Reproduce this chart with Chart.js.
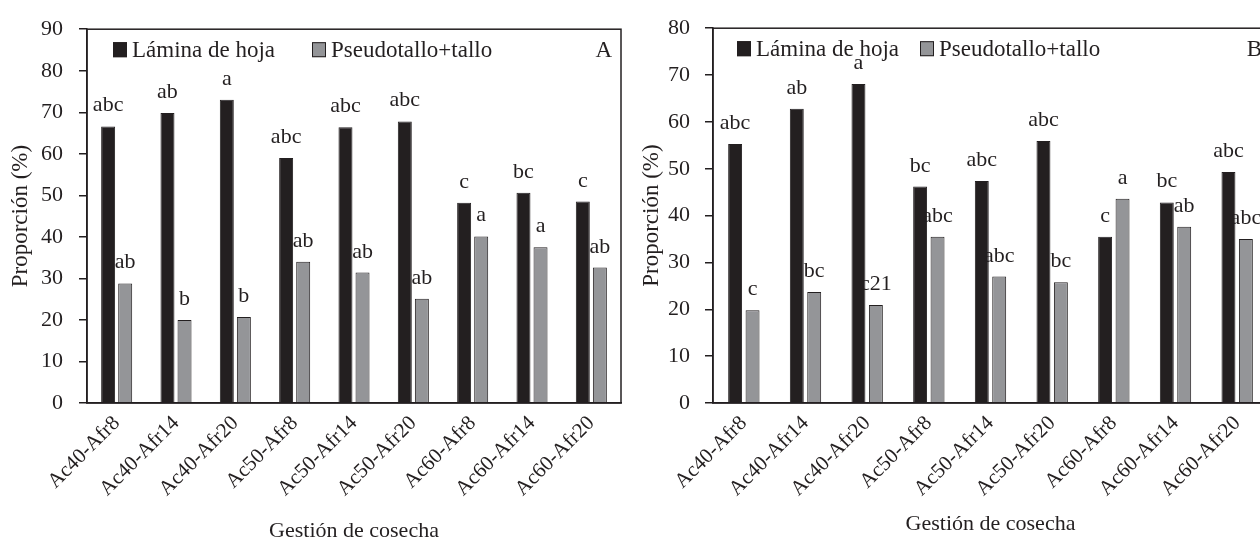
<!DOCTYPE html>
<html>
<head>
<meta charset="utf-8">
<script src="https://cdn.jsdelivr.net/npm/chart.js@4.4.1/dist/chart.umd.min.js"></script>
<style>
  html, body { margin:0; padding:0; background:#fff; overflow:hidden; width:1260px; height:556px; }
  #wrapA { position:absolute; left:0; top:0; width:630px; height:556px; }
  #wrapB { position:absolute; left:630px; top:0; width:660px; height:556px; }
</style>
</head>
<body>
<div id="wrapA"><canvas id="chartA" width="630" height="556"></canvas></div>
<div id="wrapB"><canvas id="chartB" width="660" height="556"></canvas></div>
<script>
// ---- data ----
const categories = ['Ac40-Afr8','Ac40-Afr14','Ac40-Afr20','Ac50-Afr8','Ac50-Afr14','Ac50-Afr20','Ac60-Afr8','Ac60-Afr14','Ac60-Afr20'];
const seriesNames = ['Lámina de hoja','Pseudotallo+tallo'];

const laminaA = [66.6, 69.8, 73.0, 59.0, 66.4, 67.8, 48.2, 50.6, 48.5];
const pseudoA = [28.8, 20.0, 20.7, 34.0, 31.4, 25.1, 40.1, 37.5, 32.6];
const lettersLaminaA = ['abc','ab','a','abc','abc','abc','c','bc','c'];
const lettersPseudoA = ['ab','b','b','ab','ab','ab','a','a','ab'];

const laminaB = [55.3, 62.8, 68.1, 46.2, 47.4, 55.9, 35.5, 42.8, 49.3];
const pseudoB = [19.8, 23.7, 20.9, 35.5, 27.0, 25.8, 43.6, 37.6, 35.0];
const lettersLaminaB = ['abc','ab','a','bc','abc','abc','c','bc','abc'];
const lettersPseudoB = ['c','bc','c21','abc','abc','bc','a','ab','abc'];

const yTicksA = [0,10,20,30,40,50,60,70,80,90];
const yTicksB = [0,10,20,30,40,50,60,70,80];

const yTitle = 'Proporción (%)';
const xTitle = 'Gestión de cosecha';

// ---- styles ----
const INK = '#231f20';
const GRAY = '#949598';
const FONT = "'Liberation Serif', 'Times New Roman', serif";

const decor = {
  id: 'decor',
  afterDatasetsDraw(chart, args, opts) {
    const ctx = chart.ctx;
    const a = chart.chartArea;
    ctx.save();
    // frame
    ctx.strokeStyle = INK;
    ctx.lineWidth = 1.5;
    ctx.strokeRect(a.left, a.top, a.right - a.left, a.bottom - a.top);
    // letters above bars
    ctx.fillStyle = INK;
    ctx.font = '22px ' + FONT;
    ctx.textAlign = 'center';
    ctx.textBaseline = 'alphabetic';
    chart.data.datasets.forEach((ds, i) => {
      const meta = chart.getDatasetMeta(i);
      meta.data.forEach((bar, j) => {
        ctx.fillText(ds.letters[j], bar.x, bar.y - 15);
      });
    });
    // legend
    ctx.font = '23px ' + FONT;
    ctx.textAlign = 'left';
    const ly = a.top + 28;
    chart.data.datasets.forEach((ds, i) => {
      const x0 = a.left + opts.legendX[i];
      ctx.fillStyle = ds.backgroundColor;
      ctx.fillRect(x0, ly - 15, 14, 15);
      ctx.strokeStyle = INK;
      ctx.lineWidth = 1;
      ctx.strokeRect(x0 + 0.5, ly - 14.5, 13, 14);
      ctx.fillStyle = INK;
      ctx.fillText(ds.label, x0 + 19, ly);
    });
    // panel letter
    ctx.textAlign = 'right';
    ctx.fillText(opts.panel, a.right - opts.panelInset, ly);
    // axis titles
    ctx.font = '22px ' + FONT;
    ctx.textAlign = 'center';
    ctx.textBaseline = 'middle';
    ctx.fillText(xTitle, (a.left + a.right) / 2, opts.xTitleY);
    ctx.save();
    ctx.translate(opts.yTitleX, (a.top + a.bottom) / 2);
    ctx.rotate(-Math.PI / 2);
    ctx.font = '23px ' + FONT;
    ctx.fillText(yTitle, 0, 0);
    ctx.restore();
    ctx.restore();
  }
};

function makeChart(id, lam, pse, letL, letP, ticks, yMax, cfg) {
  return new Chart(document.getElementById(id), {
    type: 'bar',
    data: {
      labels: categories,
      datasets: [
        { label: seriesNames[0], data: lam, letters: letL, backgroundColor: INK, borderColor: INK, borderWidth: 1,
          barPercentage: cfg.barPct, categoryPercentage: cfg.catPct },
        { label: seriesNames[1], data: pse, letters: letP, backgroundColor: GRAY, borderColor: INK, borderWidth: 1,
          barPercentage: cfg.barPct, categoryPercentage: cfg.catPct }
      ]
    },
    options: {
      responsive: false,
      animation: false,
      devicePixelRatio: 1,
      layout: { padding: { left: cfg.padLeft, right: cfg.padRight, top: 25, bottom: 0 } },
      plugins: {
        legend: { display: false },
        tooltip: { enabled: false },
        decor: cfg.decor
      },
      scales: {
        x: {
          grid: { display: false },
          border: { display: true, color: INK, width: 1.5 },
          ticks: { autoSkip: false, minRotation: 45, maxRotation: 45, padding: 0,
                   color: INK, font: { family: FONT, size: 21 } },
          afterFit: (s) => { s.height = 153; }
        },
        y: {
          min: 0, max: yMax,
          afterBuildTicks: (s) => { s.ticks = ticks.map(v => ({ value: v })); },
          grid: { drawOnChartArea: false, tickLength: 8, color: INK, lineWidth: 1.5 },
          border: { display: true, color: INK, width: 1.5 },
          ticks: { padding: cfg.yPad, color: INK, font: { family: FONT, size: 22 } },
          afterFit: (s) => { s.width = cfg.yWidth; }
        }
      }
    },
    plugins: [decor]
  });
}

makeChart('chartA', laminaA, pseudoA, lettersLaminaA, lettersPseudoA, yTicksA, 90, {
  barPct: 0.82, catPct: 0.575, padLeft: 0, padRight: 9, yWidth: 87, yPad: 16,
  decor: { legendX: [26, 225], panel: 'A', panelInset: 9, xTitleY: 531, yTitleX: 21 }
});
makeChart('chartB', laminaB, pseudoB, lettersLaminaB, lettersPseudoB, yTicksB, 80, {
  barPct: 0.80, catPct: 0.565, padLeft: 0, padRight: 22, yWidth: 83, yPad: 15,
  decor: { legendX: [24, 207], panel: 'B', panelInset: 6, xTitleY: 524, yTitleX: 22 }
});
</script>
</body>
</html>
